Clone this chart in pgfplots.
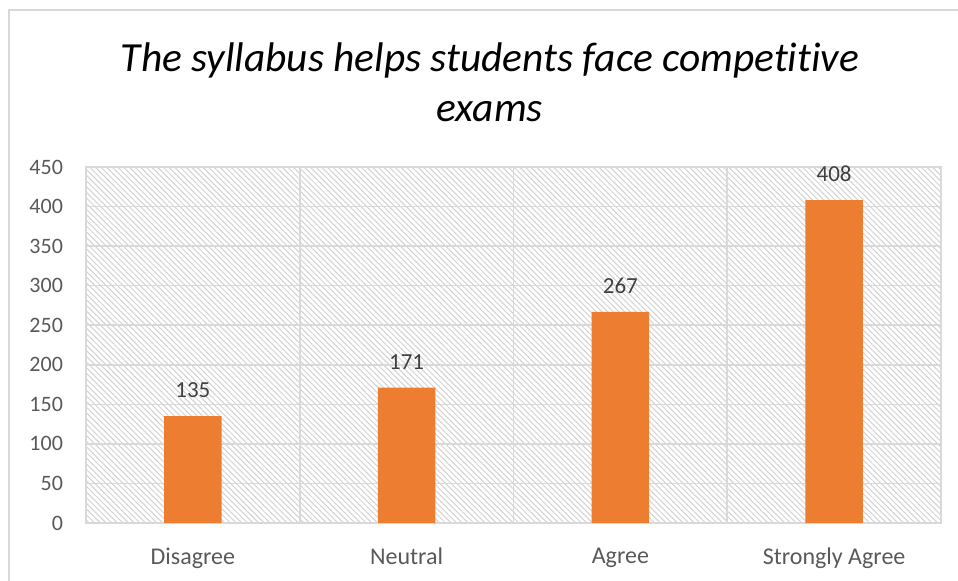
\documentclass[border=0pt]{standalone}
\usepackage{fontspec}
\setmainfont{Carlito}[Ligatures=NoCommon]
\usepackage{pgfplots}
\pgfplotsset{compat=1.18}
\usetikzlibrary{patterns.meta}

\definecolor{barorange}{HTML}{ED7D31}
\definecolor{gridgray}{HTML}{D9D9D9}
\definecolor{ticktext}{HTML}{595959}
\definecolor{labeltext}{HTML}{404040}

\begin{document}
\begin{tikzpicture}
% page is 958 x 581 px, 1 px = 0.5pt
\path[use as bounding box] (0,0) rectangle (479pt,290.5pt);
\draw[gridgray, line width=1pt] (4.5pt,0) -- (4.5pt,285.5pt) -- (479pt,285.5pt);

\node[font=\fontsize{20.7}{25}\selectfont\itshape, align=center, text=black]
  at (245pt,249.5pt) {The syllabus helps students face competitive\\exams};

\begin{axis}[
    at={(43pt,29pt)}, anchor=south west,
    scale only axis,
    width=427.5pt, height=178pt,
    xmin=-0.5, xmax=3.5,
    ymin=0, ymax=450,
    ytick={0,50,...,450},
    xtick={0,1,2,3},
    xticklabels={Disagree,Neutral,Agree,Strongly Agree},
    minor xtick={-0.5,0.5,1.5,2.5,3.5},
    xminorgrids=true, ymajorgrids=true,
    grid style={gridgray, line width=0.8pt},
    minor grid style={gridgray, line width=0.8pt},
    axis line style={gridgray, line width=0.8pt},
    major tick length=0pt, minor tick length=0pt,
    tick style={draw=none},
    /pgf/number format/assume math mode=true,
    yticklabel style={font=\fontsize{11}{13}\selectfont, text=ticktext, xshift=-8pt},
    xticklabel style={font=\fontsize{12}{14}\selectfont, text=ticktext, yshift=-9pt},
    axis background/.style={pattern={Lines[angle=-45, distance=2pt, line width=0.5pt]}, pattern color=gray!35},
    ybar, bar width=0.27,
    nodes near coords,
    every node near coord/.append style={font=\fontsize{11.5}{13}\selectfont, text=labeltext, yshift=5.5pt},
]
\addplot[fill=barorange, draw=none] coordinates {(0,135) (1,171) (2,267) (3,408)};
\end{axis}
\end{tikzpicture}
\end{document}
